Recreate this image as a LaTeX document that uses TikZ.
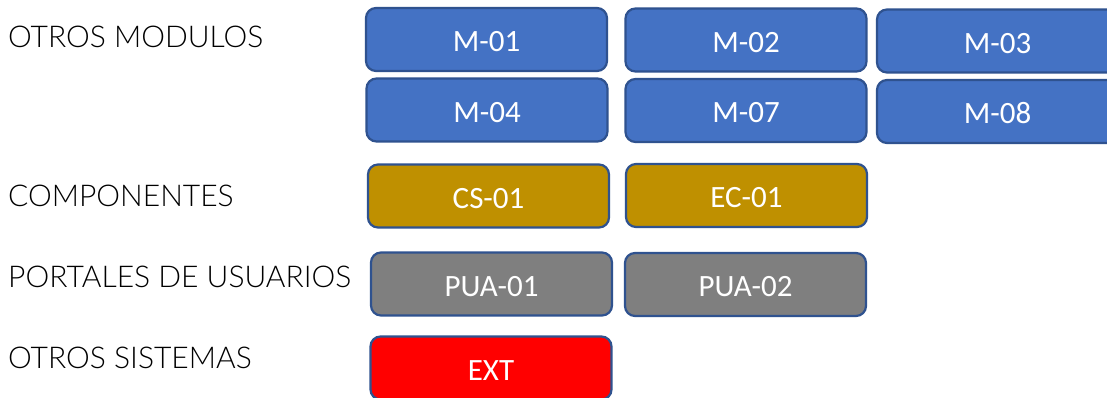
\documentclass[tikz,border=0pt]{standalone}
\usepackage{fontspec}
\setmainfont{Carlito}
\newfontfamily\labelfont{Lato}[UprightFont={* Light}]
\definecolor{mblue}{HTML}{4472C4}
\definecolor{mgold}{HTML}{BF9000}
\definecolor{mgray}{HTML}{7F7F7F}
\definecolor{mred}{HTML}{FF0000}
\definecolor{edgeblue}{HTML}{2F528F}
\tikzset{
  box/.style={draw=edgeblue, line width=2.2pt, rounded corners=10pt, text=white,
    font=\fontsize{31}{31}\selectfont, minimum width=241pt, minimum height=63pt,
    text height=24pt, text depth=0pt, inner sep=0pt},
  bluebox/.style={box, fill=mblue},
  goldbox/.style={box, fill=mgold},
  graybox/.style={box, fill=mgray},
  redbox/.style={box, fill=mred},
  rowlabel/.style={anchor=base west, inner sep=0pt, font=\labelfont\fontsize{30}{30}\selectfont}
}
\begin{document}
\begin{tikzpicture}[x=1pt,y=-1pt]
\clip (0,0) rectangle (1107,397);
\fill[white] (0,0) rectangle (1107,397);
\node[rowlabel] (l1) at (8,47) {OTROS MODULOS};
\node[rowlabel] (l2) at (8,206) {COMPONENTES};
\node[rowlabel] (l3) at (8,287) {PORTALES DE USUARIOS};
\node[rowlabel] (l4) at (8,368) {OTROS SISTEMAS};
\node[bluebox] (m01) at (486.5,39.5) {M-01};
\node[bluebox] (m02) at (746,40) {M-02};
\node[bluebox] (m03) at (997.5,41) {M-03};
\node[bluebox] (m04) at (487,110) {M-04};
\node[bluebox] (m07) at (746,110.5) {M-07};
\node[bluebox] (m08) at (997.5,111.5) {M-08};
\node[goldbox] (cs01) at (488.5,196) {CS-01};
\node[goldbox] (ec01) at (746.5,195.5) {EC-01};
\node[graybox] (pua01) at (491.5,284) {PUA-01};
\node[graybox] (pua02) at (745.5,284.5) {PUA-02};
\node[redbox] (ext) at (491,368) {EXT};
\end{tikzpicture}
\end{document}
